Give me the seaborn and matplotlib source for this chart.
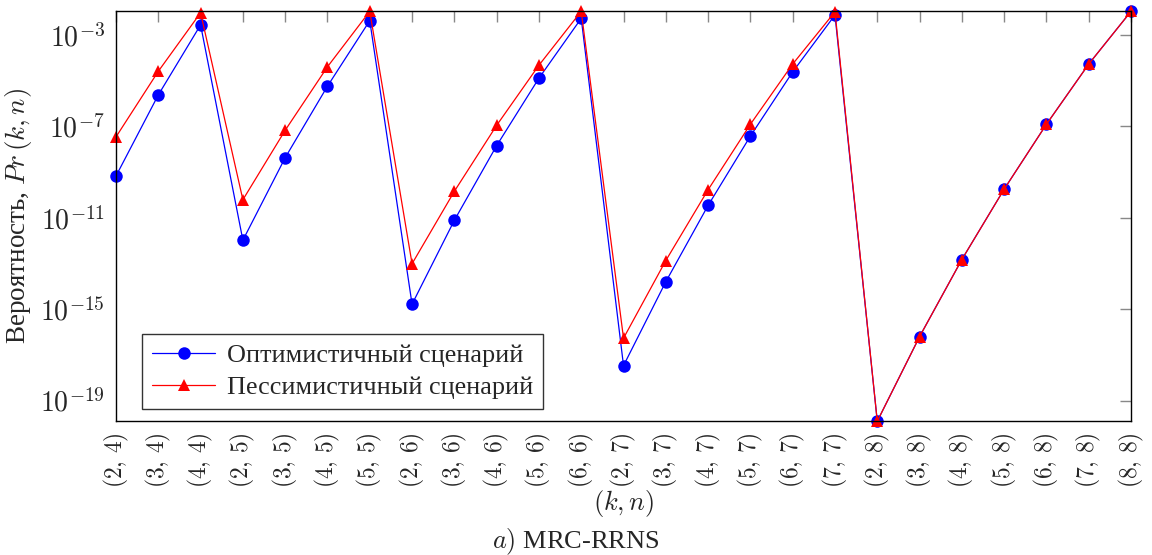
import numpy as np
import pandas as pd
import matplotlib
matplotlib.use("Agg")
import matplotlib.pyplot as plt
import seaborn as sns

categories = ["(2,4)", "(3,4)", "(4,4)", "(2,5)", "(3,5)", "(4,5)", "(5,5)",
              "(2,6)", "(3,6)", "(4,6)", "(5,6)", "(6,6)",
              "(2,7)", "(3,7)", "(4,7)", "(5,7)", "(6,7)", "(7,7)",
              "(2,8)", "(3,8)", "(4,8)", "(5,8)", "(6,8)", "(7,8)", "(8,8)"]

optimistic = [6.8e-10, 2.4e-6, 2.8e-3,
              1.05e-12, 4.3e-9, 5.8e-6, 4.3e-3,
              1.66e-15, 7.8e-12, 1.45e-8, 1.3e-5, 5.4e-3,
              3.4e-18, 1.6e-14, 3.5e-11, 3.8e-8, 2.45e-5, 7.6e-3,
              1.25e-20, 6.3e-17, 1.5e-13, 1.8e-10, 1.25e-7, 5.4e-5, 1.1e-2]

pessimistic = [3.5e-8, 2.6e-5, 9.5e-3,
               6.2e-11, 6.8e-8, 4.1e-5, 1.1e-2,
               9.8e-14, 1.45e-10, 1.12e-7, 4.8e-5, 1.1e-2,
               5.4e-17, 1.35e-13, 1.7e-10, 1.25e-7, 5.4e-5, 1.05e-2,
               1.25e-20, 6.3e-17, 1.5e-13, 1.8e-10, 1.25e-7, 5.4e-5, 1.1e-2]

series_names = ["Оптимистичный сценарий", "Пессимистичный сценарий"]
ytick_values = [1e-3, 1e-7, 1e-11, 1e-15, 1e-19]

sns.set_theme(style="white")
plt.rcParams["font.family"] = ["Liberation Serif", "DejaVu Serif"]
plt.rcParams["mathtext.fontset"] = "cm"

pos = np.arange(len(categories))
df = pd.DataFrame({"pos": np.concatenate([pos, pos]),
                   "value": optimistic + pessimistic,
                   "series": [series_names[0]] * len(pos) + [series_names[1]] * len(pos)})

fig = plt.figure(figsize=(11.52, 5.55), dpi=100)
ax = fig.add_axes([0.1007, 0.241, 0.8811, 0.7386])

sns.lineplot(data=df, x="pos", y="value", hue="series", style="series",
             palette={series_names[0]: "#0000ff", series_names[1]: "#ff0000"},
             markers={series_names[0]: "o", series_names[1]: "^"},
             dashes=False, linewidth=0.9, markersize=9, markeredgewidth=0,
             ax=ax, clip_on=False, legend=True)

ax.set_yscale("log")
ax.set_xlim(pos[0], pos[-1])
allv = optimistic + pessimistic
ax.set_ylim(min(allv), max(allv))
ax.set_yticks(ytick_values)
ax.yaxis.set_minor_locator(matplotlib.ticker.NullLocator())
ax.set_yticklabels([r"$10^{%d}$" % int(round(np.log10(v))) for v in ytick_values], fontsize=20)
ax.set_xticks(pos)
ax.set_xticklabels([r"$(%s,\,%s)$" % tuple(c.strip("()").split(",")) for c in categories],
                   rotation=90, fontsize=17)

ax.tick_params(axis="both", which="major", direction="in", length=8, width=1,
               color="#888888", top=True, right=True, pad=8)
for s in ax.spines.values():
    s.set_color("black")
    s.set_linewidth(1.0)
    s.set_visible(True)

ax.set_xlabel(r"$(k,n)$", fontsize=19, labelpad=0)
ax.set_ylabel(r"Вероятность, $Pr\,(k,n)$", fontsize=19.5, labelpad=4)
fig.text(0.5, 0.024, r"$a)$ MRC-RRNS", ha="center", va="center", fontsize=19)

handles, labels = ax.get_legend_handles_labels()
leg = ax.legend(handles, labels, loc="lower left", bbox_to_anchor=(0.026, 0.03),
                fontsize=18.8, frameon=True, fancybox=False, edgecolor="black",
                borderpad=0.38, handlelength=2.4, handletextpad=0.45, labelspacing=0.32,
                borderaxespad=0)
leg.get_frame().set_linewidth(1.0)

fig.savefig("out.png", dpi=100)
